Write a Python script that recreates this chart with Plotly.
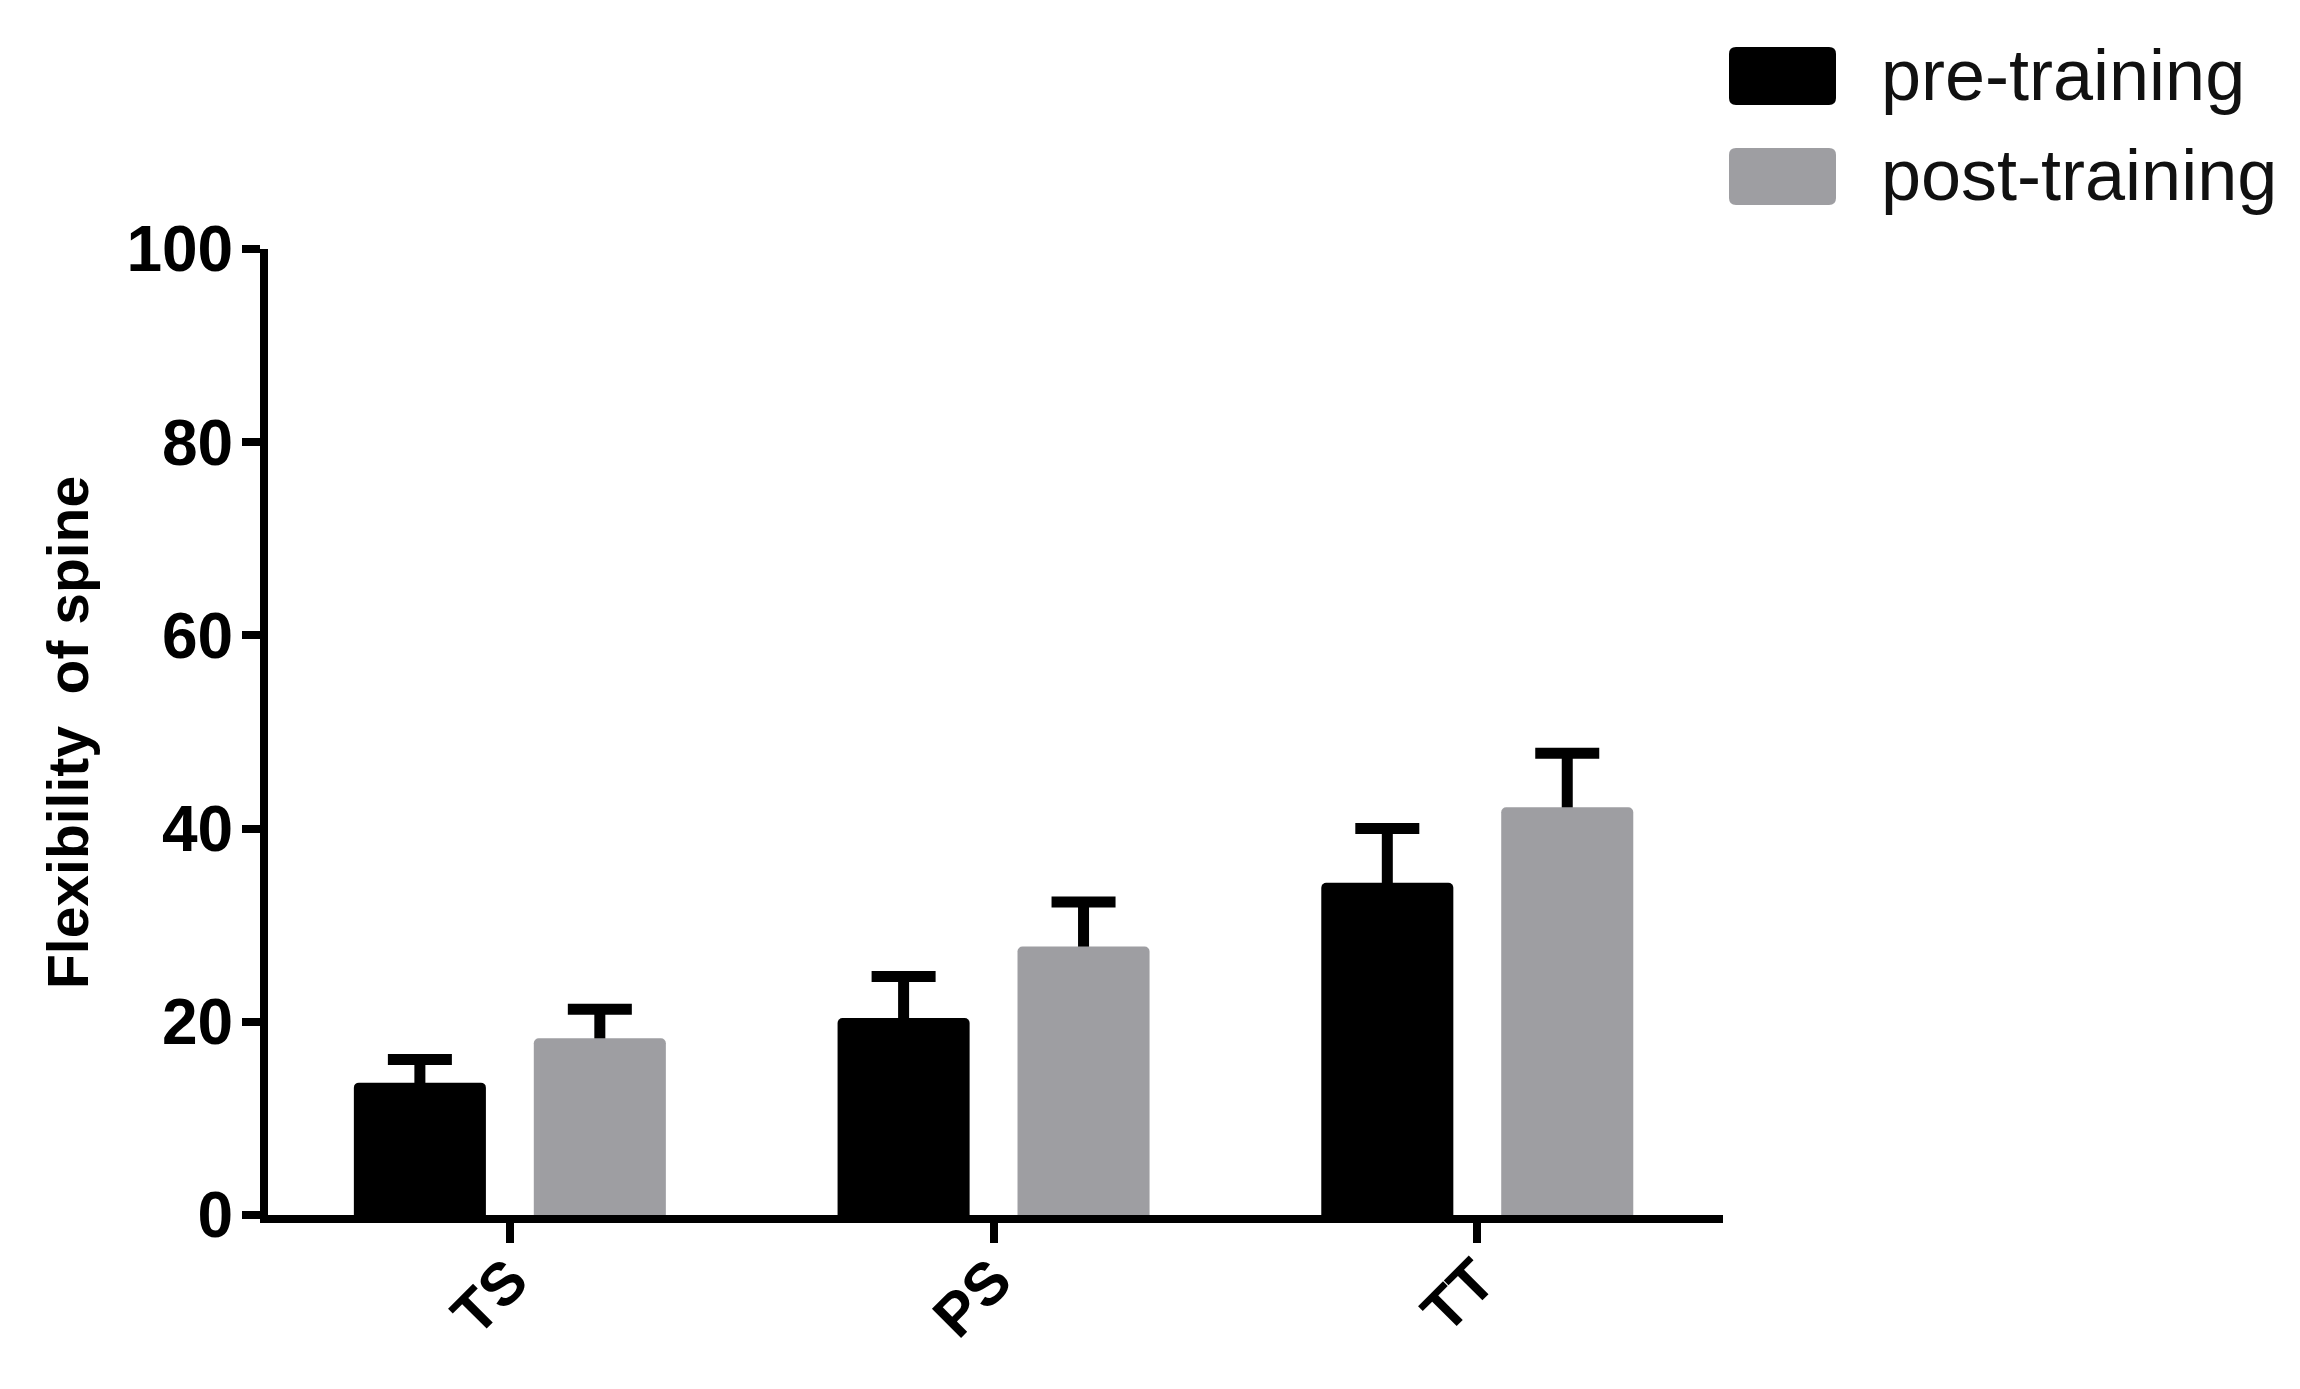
import plotly.graph_objects as go

# ---- data ----
categories = ["TS", "PS", "TT"]
series_names = ["pre-training", "post-training"]
pre_values = [13.7, 20.4, 34.4]
pre_errors = [2.4, 4.3, 5.6]
post_values = [18.3, 27.8, 42.2]
post_errors = [3.0, 4.6, 5.6]
y_tick_values = [0, 20, 40, 60, 80, 100]
y_title = "Flexibility  of spine"

# ---- style ----
BLACK = "#000000"
GRAY = "#9e9ea2"
FONT = "Liberation Sans"
OFF = 8  # default page body margin
W, H = 2300 - OFF, 1389 - OFF
# positions measured in the reference (page pixels)
PLOT_L, PLOT_R, PLOT_T, PLOT_B = 268, 1723, 249, 1215
ML, MT = PLOT_L - OFF, PLOT_T - OFF
MR, MB = (2300 - PLOT_R), (1389 - PLOT_B)
PW, PH = PLOT_R - PLOT_L, PLOT_B - PLOT_T

BAR_W = 0.273
BAR_OFF = 0.186

fig = go.Figure()
series = [
    (series_names[0], pre_values, pre_errors, BLACK, -BAR_OFF),
    (series_names[1], post_values, post_errors, GRAY, BAR_OFF),
]
# error bars first (their lower half is hidden behind the real bars)
for name, vals, errs, color, off in series:
    fig.add_trace(go.Bar(
        x=categories, y=vals, name=name + " error",
        marker=dict(color="rgba(0,0,0,0)", line=dict(width=0)),
        width=BAR_W, offset=off - BAR_W / 2,
        error_y=dict(type="data", array=errs, symmetric=True,
                     color=BLACK, thickness=11, width=32),
        showlegend=False, hoverinfo="skip",
    ))
for name, vals, errs, color, off in series:
    fig.add_trace(go.Bar(
        x=categories, y=vals, name=name,
        marker=dict(color=color, line=dict(width=0), cornerradius=5),
        width=BAR_W, offset=off - BAR_W / 2,
        showlegend=False,
    ))

# ---- legend drawn manually (large rounded swatches) ----
def px_x(p):
    return (p - PLOT_L) / PW

def px_y(p):
    return (PLOT_B - p) / PH

def rounded_rect(x0p, y0p, x1p, y1p, r=7):
    x0, x1 = px_x(x0p), px_x(x1p)
    yt, yb = px_y(y0p), px_y(y1p)
    rx, ry = r / PW, r / PH
    return (f"M {x0+rx},{yb} L {x1-rx},{yb} Q {x1},{yb} {x1},{yb+ry} "
            f"L {x1},{yt-ry} Q {x1},{yt} {x1-rx},{yt} L {x0+rx},{yt} "
            f"Q {x0},{yt} {x0},{yt-ry} L {x0},{yb+ry} Q {x0},{yb} {x0+rx},{yb} Z")

shapes = []
annotations = []
legend_rows = [(series_names[0], BLACK, 47, 105, 75), (series_names[1], GRAY, 148, 205, 175)]
for name, color, t, b, ty in legend_rows:
    shapes.append(dict(type="path", xref="paper", yref="paper",
                       path=rounded_rect(1729, t, 1836, b),
                       fillcolor=color, line=dict(width=0), layer="above"))
    annotations.append(dict(text=name, xref="paper", yref="paper",
                            x=px_x(1879), y=px_y(ty), xanchor="left", yanchor="middle",
                            showarrow=False,
                            font=dict(family=FONT, size=72, color="#111111")))

annotations.append(dict(text=y_title, xref="paper", yref="paper",
                        x=px_x(68), y=0.5, xanchor="center", yanchor="middle",
                        textangle=-90, showarrow=False,
                        font=dict(family=FONT, size=57, color=BLACK, weight="bold")))

fig.update_layout(
    width=W, height=H,
    margin=dict(l=ML, r=MR, t=MT, b=MB, autoexpand=False),
    paper_bgcolor="white", plot_bgcolor="white",
    barmode="overlay",
    showlegend=False,
    shapes=shapes,
    annotations=annotations,
    font=dict(family=FONT, color=BLACK),
)

fig.update_xaxes(
    type="category", categoryorder="array", categoryarray=categories,
    range=[-0.5, 2.508],
    showline=True, linecolor=BLACK, linewidth=8,
    showgrid=False, zeroline=False,
    ticks="outside", ticklen=20, tickwidth=8, tickcolor=BLACK,
    tickangle=-45, ticklabelstandoff=-22,
    tickfont=dict(family=FONT, size=60, color=BLACK, weight="bold"),
)
fig.update_yaxes(
    range=[0, 100], tickvals=y_tick_values,
    showline=True, linecolor=BLACK, linewidth=8,
    showgrid=False, zeroline=False,
    ticks="outside", ticklen=18, tickwidth=8, tickcolor=BLACK,
    ticklabelstandoff=-4,
    tickfont=dict(family=FONT, size=64, color=BLACK, weight="bold"),
)

fig.write_html("out.html")
